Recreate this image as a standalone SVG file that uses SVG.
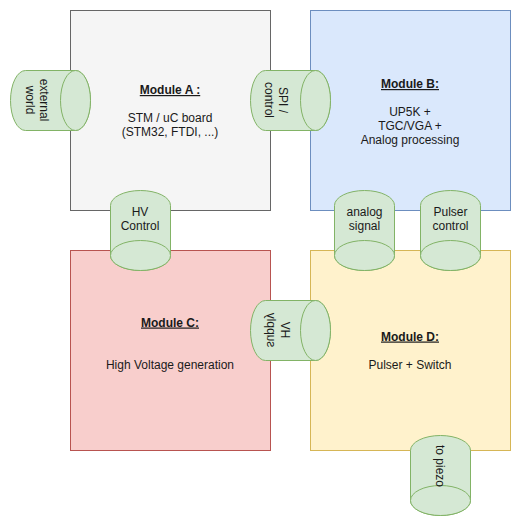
<svg xmlns="http://www.w3.org/2000/svg" width="521" height="526" viewBox="0 0 521 526">
<style>
  text { font-family: "Liberation Sans", Arial, sans-serif; font-size: 12px; fill: #1a1a1a; text-anchor: middle; }
  .title { font-weight: bold; text-decoration: underline; }
  .modA { fill: #f5f5f5; stroke: #666666; }
  .modB { fill: #dae8fc; stroke: #6c8ebf; }
  .modC { fill: #f8cecc; stroke: #b85450; }
  .modD { fill: #fff2cc; stroke: #d6b656; }
  .cyl { fill: #d5e8d4; stroke: #82b366; stroke-width: 1; }
</style>
<rect width="521" height="526" fill="#ffffff"/>

<g id="moduleA">
  <rect class="modA" x="70.5" y="10.5" width="200" height="200"/>
  <text class="title" x="170" y="94">Module A :</text>
  <text x="170" y="122">STM / uC board</text>
  <text x="170" y="136">(STM32, FTDI, ...)</text>
</g>
<g id="moduleB">
  <rect class="modB" x="310.5" y="10.5" width="200" height="200"/>
  <text class="title" x="410" y="88">Module B:</text>
  <text x="410" y="116">UP5K +</text>
  <text x="410" y="130">TGC/VGA +</text>
  <text x="410" y="144">Analog processing</text>
</g>
<g id="moduleC">
  <rect class="modC" x="70.5" y="250.5" width="200" height="200"/>
  <text class="title" x="170" y="326.5">Module C:</text>
  <text x="170" y="368.5">High Voltage generation</text>
</g>
<g id="moduleD">
  <rect class="modD" x="310.5" y="250.5" width="200" height="200"/>
  <text class="title" x="410" y="340.5">Module D:</text>
  <text x="410" y="368.5">Pulser + Switch</text>
</g>

<g id="connectors"></g>

<g id="externalWorld">
  <path class="cyl" d="M25.5,70.5 L75.5,70.5 A15,30 0 0 1 75.5,130.5 L25.5,130.5 A15,30 0 0 1 25.5,70.5 Z"/>
  <ellipse class="cyl" cx="75.5" cy="100.5" rx="15" ry="30"/>
  <g transform="translate(37,100) rotate(90)">
    <text x="0" y="-3">external</text>
    <text x="0" y="11">world</text>
  </g>
</g>
<g id="spiControl">
  <path class="cyl" d="M265.5,70.5 L315.5,70.5 A15,30 0 0 1 315.5,130.5 L265.5,130.5 A15,30 0 0 1 265.5,70.5 Z"/>
  <ellipse class="cyl" cx="315.5" cy="100.5" rx="15" ry="30"/>
  <g transform="translate(276,100) rotate(90)">
    <text x="0" y="-3">SPI /</text>
    <text x="0" y="11">control</text>
  </g>
</g>
<g id="hvSupply">
  <path class="cyl" d="M265.5,300.5 L315.5,300.5 A15,30 0 0 1 315.5,360.5 L265.5,360.5 A15,30 0 0 1 265.5,300.5 Z"/>
  <ellipse class="cyl" cx="315.5" cy="330.5" rx="15" ry="30"/>
  <g transform="translate(278,330) matrix(0,-1,-1,0,0,0)">
    <text x="0" y="-3">HV</text>
    <text x="0" y="11">supply</text>
  </g>
</g>
<g id="hvControl">
  <path class="cyl" d="M110.5,205.5 A30,15 0 0 1 170.5,205.5 L170.5,255.5 A30,15 0 0 1 110.5,255.5 Z"/>
  <ellipse class="cyl" cx="140.5" cy="255.5" rx="30" ry="15"/>
  <text x="140" y="216">HV</text>
  <text x="140" y="230">Control</text>
</g>
<g id="analogSignal">
  <path class="cyl" d="M334.5,205.5 A30,15 0 0 1 394.5,205.5 L394.5,255.5 A30,15 0 0 1 334.5,255.5 Z"/>
  <ellipse class="cyl" cx="364.5" cy="255.5" rx="30" ry="15"/>
  <text x="364.5" y="216">analog</text>
  <text x="364.5" y="230">signal</text>
</g>
<g id="pulserControl">
  <path class="cyl" d="M420.5,205.5 A30,15 0 0 1 480.5,205.5 L480.5,255.5 A30,15 0 0 1 420.5,255.5 Z"/>
  <ellipse class="cyl" cx="450.5" cy="255.5" rx="30" ry="15"/>
  <text x="450.5" y="216">Pulser</text>
  <text x="450.5" y="230">control</text>
</g>
<g id="toPiezo">
  <path class="cyl" d="M410.5,450.5 A30,15 0 0 1 470.5,450.5 L470.5,500.5 A30,15 0 0 1 410.5,500.5 Z"/>
  <ellipse class="cyl" cx="440.5" cy="500.5" rx="30" ry="15"/>
  <g transform="translate(440,466) rotate(90)">
    <text x="0" y="4">to piezo</text>
  </g>
</g>
</svg>
